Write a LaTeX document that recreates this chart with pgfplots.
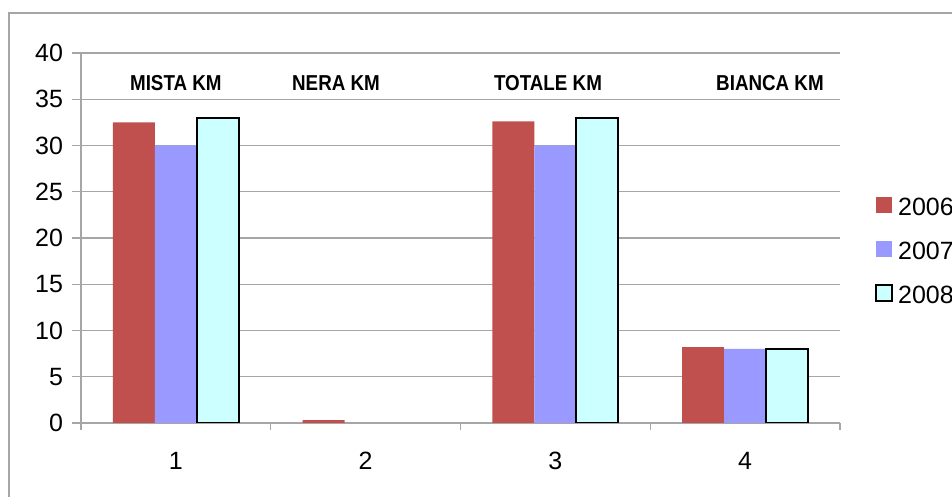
\documentclass[border=0pt]{standalone}
\usepackage{fontspec}
\setmainfont{Liberation Sans}
\usepackage{pgfplots}
\pgfplotsset{compat=1.18}

\definecolor{c2006}{HTML}{C0504D}
\definecolor{c2007}{HTML}{9999FF}
\definecolor{c2008}{HTML}{CCFFFF}
\definecolor{gridgray}{HTML}{A6A6A6}

% square legend swatches
\pgfplotsset{sqlegend/.style={legend image code/.code={%
  \path[##1] (0pt,-2.4pt) rectangle (8pt,5.6pt);}}}

\newcommand{\kmlabel}[1]{\scalebox{0.87}[1]{#1}}

\begin{document}
\begin{tikzpicture}[x=1pt,y=1pt]
\useasboundingbox (0,0) rectangle (476,248.5);
\clip (0,0) rectangle (476,248.5);
% outer chart frame
\draw[gridgray, line width=0.6pt] (4.5,-10) rectangle (500,242);
\begin{axis}[
    at={(40.5pt,37pt)}, anchor=south west,
    scale only axis,
    width=379.5pt, height=185pt,
    xmin=0.5, xmax=4.5,
    ymin=0, ymax=40,
    xtick={1,2,3,4},
    minor xtick={0.5,1.5,2.5,3.5,4.5},
    ytick={0,5,...,40},
    axis x line*=bottom, axis y line*=left,
    axis line style={gridgray, line width=0.7pt},
    ymajorgrids,
    grid style={gridgray, line width=0.6pt},
    tick align=outside,
    major tick length=4.5pt,
    minor tick length=3.5pt,
    tick style={gridgray, line width=0.6pt},
    major x tick style={draw=none},
    /pgf/number format/assume math mode=true,
    ticklabel style={font=\fontsize{12.5}{14}\selectfont, black},
    xticklabel style={yshift=-6.7pt},
    yticklabel style={xshift=-1pt},
    legend style={draw=none, fill=none, inner sep=0pt,
        at={(axis description cs:1.0461,0.462)}, anchor=west,
        font=\fontsize{12.5}{14}\selectfont,
        row sep=11pt,
        nodes={inner sep=0pt},
        /tikz/every odd column/.append style={column sep=2.5pt}},
    legend cell align=left,
]
\addplot[ybar, bar width=0.2213, bar shift=-0.2213, fill=c2006, draw=none, sqlegend]
    coordinates {(1,32.5) (2,0.3) (3,32.6) (4,8.2)};
\addlegendentry{2006}
\addplot[ybar, bar width=0.2213, bar shift=0, fill=c2007, draw=none, sqlegend]
    coordinates {(1,30) (3,30) (4,8)};
\addlegendentry{2007}
\addplot[ybar, bar width=0.2213, bar shift=0.2213, fill=c2008, draw=black, line width=0.9pt, sqlegend]
    coordinates {(1,33) (3,33) (4,8)};
\addlegendentry{2008}

\node[font=\bfseries\fontsize{10.8}{12}\selectfont] at (axis cs:1.0,36.76) {\kmlabel{MISTA KM}};
\node[font=\bfseries\fontsize{10.8}{12}\selectfont] at (axis cs:1.844,36.76) {\kmlabel{NERA KM}};
\node[font=\bfseries\fontsize{10.8}{12}\selectfont] at (axis cs:2.961,36.76) {\kmlabel{TOTALE KM}};
\node[font=\bfseries\fontsize{10.8}{12}\selectfont] at (axis cs:4.131,36.76) {\kmlabel{BIANCA KM}};
\end{axis}
\end{tikzpicture}
\end{document}
